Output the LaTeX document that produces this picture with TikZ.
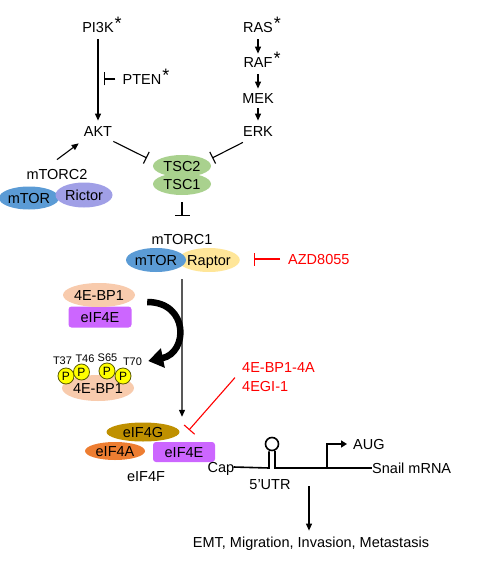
\documentclass[tikz,border=0pt]{standalone}
\usepackage{fontspec}
\setmainfont{Liberation Sans}
\usetikzlibrary{arrows.meta,shapes.geometric}
\definecolor{mtorblue}{HTML}{5B9BD5}
\definecolor{rictorc}{HTML}{A09FE6}
\definecolor{raptorc}{HTML}{FFE699}
\definecolor{tscgreen}{HTML}{A9D18E}
\definecolor{peach}{HTML}{F8CBAD}
\definecolor{violetc}{HTML}{CC66FF}
\definecolor{olivec}{HTML}{BF9000}
\definecolor{orangec}{HTML}{ED7D31}
\definecolor{pyellow}{HTML}{FFFF00}
\definecolor{poutline}{HTML}{5A5A00}
\definecolor{redc}{HTML}{FF0000}
\begin{document}
\begin{tikzpicture}[x=1bp,y=-1bp,
  every node/.style={inner sep=1bp},
  txt/.style={font=\fontsize{14.5bp}{17bp}\selectfont, text height=10.4bp, text depth=0bp},
  small/.style={font=\fontsize{11bp}{13bp}\selectfont, text height=8bp, text depth=0bp, inner sep=0bp},
  ell/.style={ellipse, txt, inner sep=0bp},
  box/.style={rectangle, rounded corners=3bp, txt, inner sep=0bp, fill=violetc},
  pc/.style={circle, fill=pyellow, draw=poutline, line width=0.8bp, minimum size=16bp, inner sep=0bp,
             font=\fontsize{12bp}{12bp}\selectfont, text height=8.6bp, text depth=0bp},
  act/.style={line width=1.1bp, -{Triangle[length=7bp,width=6bp]}},
  inh/.style={line width=1.1bp, -{Bar[width=13bp]}},
  mrna/.style={line width=1.6bp},
  star/.style={}]
\useasboundingbox (0,0) rectangle (500,567);
\newcommand{\astk}{\rlap{\raisebox{3bp}{\hspace{1bp}\fontsize{18bp}{18bp}\selectfont *}}}

% PI3K branch
\node[txt] (pi3k) at (98,27) {PI3K\astk};
\node[txt] (akt) at (98,131) {AKT};
\node[txt] (pten) at (142,79) {PTEN\astk};
\coordinate (ptenhit) at (104,79);
\draw[act, shorten <=6bp, shorten >=4bp] (pi3k.south) -- (akt.north);
\draw[inh] ([xshift=-6bp]pten.west) -- (ptenhit);

% RAS branch
\node[txt] (ras) at (258,27) {RAS\astk};
\node[txt] (raf) at (258,62) {RAF\astk};
\node[txt] (mek) at (258,98) {MEK};
\node[txt] (erk) at (258,131) {ERK};
\draw[act, shorten <=6bp, shorten >=2bp] (ras.south) -- (raf.north);
\draw[act, shorten <=6bp, shorten >=3bp] (raf.south) -- (mek.north);
\draw[act, shorten <=4bp, shorten >=4bp] (mek.south) -- (erk.north);

% mTORC2
\node[txt] (mtorctwo) at (57,174) {mTORC2};
\node[ell, fill=mtorblue, minimum width=60bp, minimum height=23bp] (mtortwo) at (29,198) {mTOR};
\node[ell, fill=rictorc, minimum width=57bp, minimum height=25bp] (rictor) at (84,195) {Rictor};
\draw[act] ([yshift=8bp]mtorctwo.north) -- ([xshift=-4bp,yshift=-6bp]akt.south west);

% TSC
\node[ell, fill=tscgreen, minimum width=58bp, minimum height=22bp] (tsctwo) at (182,166) {TSC2};
\node[ell, fill=tscgreen, minimum width=58bp, minimum height=22bp] (tscone) at (182,184) {TSC1};
\draw[inh] ([yshift=-4bp]akt.south east) -- ([xshift=-6bp,yshift=8bp]tsctwo.west);
\draw[inh] ([xshift=1bp,yshift=-5bp]erk.south west) -- ([xshift=1bp,yshift=8bp]tsctwo.east);

% mTORC1
\node[txt] (mtorcone) at (182,239) {mTORC1};
\draw[inh, shorten <=7bp, shorten >=17bp, -{Bar[width=15bp]}] (tscone.south) -- (mtorcone.north);
\node[ell, fill=raptorc, minimum width=58bp, minimum height=24bp] (raptor) at (209,260) {Raptor};
\node[ell, fill=mtorblue, minimum width=58bp, minimum height=24bp] (mtorone) at (156,260) {mTOR};
\node[txt, text=redc, anchor=west] (azd) at (287,259) {AZD8055};
\coordinate (azdhit) at (254,259);
\draw[inh, draw=redc] ([xshift=-7bp]azd.west) -- (azdhit);

% 4E-BP1 / eIF4E
\node[box, minimum width=63bp, minimum height=21bp] (eifea) at (100,317) {eIF4E};
\node[ell, fill=peach, minimum width=72bp, minimum height=24bp] (bpa) at (99,295) {4E-BP1};
\node[ell, fill=peach, minimum width=72bp, minimum height=26bp] (bpb) at (98,388) {4E-BP1};
\node[small] (lta) at (62.5,360) {T37};
\node[small] (ltb) at (85,358) {T46};
\node[small] (ltc) at (107.5,357) {S65};
\node[small] (ltd) at (132.5,361) {T70};
\node[pc] (pa) at (66,376) {P};
\node[pc] (pb) at (81.5,372) {P};
\node[pc] (pcc) at (107,371) {P};
\node[pc] (pd) at (123,376) {P};
\draw[line width=6.5bp, -{Triangle[length=15bp,width=19bp]}]
  ([xshift=12bp,yshift=-7bp]bpa.east) .. controls +(42,0) and +(40,-8) .. ([xshift=14bp,yshift=27bp]bpb.east);

% eIF4F complex
\node[ell, fill=olivec, minimum width=73bp, minimum height=19bp] (eifg) at (143,432) {eIF4G};
\node[ell, fill=orangec, minimum width=60bp, minimum height=18bp] (eifa) at (115,451) {eIF4A};
\node[box, minimum width=62bp, minimum height=20bp] (eifeb) at (184,452) {eIF4E};
\node[txt] (eiff) at (146,476) {eIF4F};

% main vertical arrow
\draw[act] ([xshift=26bp,yshift=-7bp]mtorone.south) -- ([xshift=-2bp,yshift=25bp]eifeb.north);

% red drugs
\node[font=\fontsize{14.5bp}{19bp}\selectfont, text=redc, align=left, anchor=north west, inner sep=0bp] (drugs) at (242,362.8) {4E-BP1-4A\\4EGI-1};
\coordinate (drughit) at (189,430);
\draw[inh, draw=redc, -{Bar[width=14bp]}] ([xshift=-7bp]drugs.west) -- (drughit);

% mRNA
\node[txt] (cap) at (221,467) {Cap};
\node[txt, anchor=west] (snail) at (371,468) {Snail mRNA};
\node[txt, anchor=west] (aug) at (352,444) {AUG};
\node[txt] (utr) at (270,484) {5'UTR};
\node[circle, draw, line width=1.6bp, minimum size=13bp, inner sep=0bp] (loop) at (272,444) {};
\coordinate (hpl) at (269,468);
\coordinate (hpr) at (275,468);
\coordinate (augz) at (327,468);
\draw[mrna] ([xshift=-2bp]cap.east) -- (hpl) -- (hpl |- loop.south);
\draw[mrna] (hpr |- loop.south) -- (hpr) -- ([xshift=1bp]snail.west);
\draw[mrna, -{Triangle[length=6bp,width=7bp]}] (augz) |- ([xshift=-5bp]aug.west);

% outcome
\node[txt] (emt) at (311,542) {EMT, Migration, Invasion, Metastasis};
\coordinate (utrdown) at (309,486);
\draw[act, shorten >=5bp] (utrdown) -- (utrdown |- emt.north);
\end{tikzpicture}
\end{document}
